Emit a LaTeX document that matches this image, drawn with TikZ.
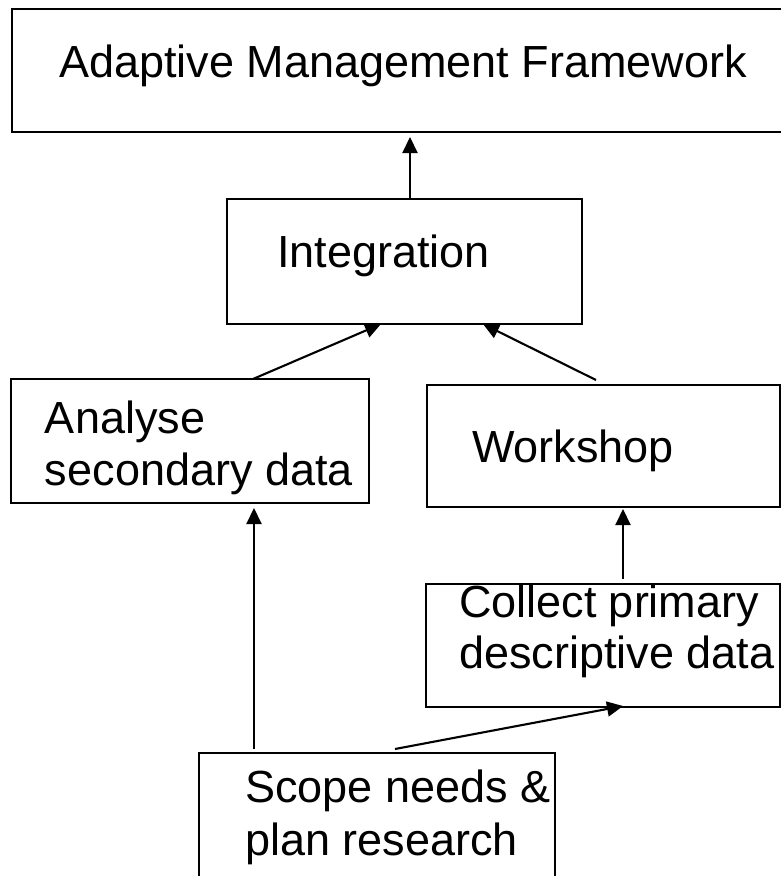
\documentclass[tikz,border=0pt]{standalone}
\usepackage{fontspec}
\setmainfont{Liberation Sans}
\usetikzlibrary{arrows.meta}

\begin{document}
\begin{tikzpicture}[x=1pt, y=-1pt,
  box/.style={draw, line width=2pt, rectangle, inner sep=0pt, outer sep=0pt},
  lbl/.style={anchor=base west, inner sep=0pt, outer sep=0pt,
              font=\fontsize{45}{52}\selectfont},
  arr/.style={line width=2.1pt, -{Triangle[length=16pt, width=15pt]}}]

  \useasboundingbox (0,0) rectangle (781,876);

  % boxes (the top box and the bottom box run past the page edge)
  \node[box, minimum width=774pt, minimum height=123pt] (top)      at (399,70.5)  {};
  \node[box, minimum width=355pt, minimum height=125pt] (integ)    at (404.5,261.5) {};
  \node[box, minimum width=358pt, minimum height=124pt] (analyse)  at (190,441)   {};
  \node[box, minimum width=353pt, minimum height=122pt] (workshop) at (603.5,446) {};
  \node[box, minimum width=354pt, minimum height=123pt] (collect)  at (603,645.5) {};
  \node[box, minimum width=356pt, minimum height=140pt] (scope)    at (377,823)   {};

  % labels
  \node[lbl] (topT)   at (59,77)   {Adaptive Management Framework};
  \node[lbl] (integT) at (277,267) {Integration};
  \node[lbl] (anaT1)  at (45,433)  {Analyse};
  \node[lbl] (anaT2)  at (45,485)  {secondary data};
  \node[lbl] (wsT)    at (472,462) {Workshop};
  \node[lbl] (colT1)  at (459,617) {Collect primary};
  \node[lbl] (colT2)  at (459,668) {descriptive data};
  \node[lbl] (scT1)   at (245,802) {Scope needs \&};
  \node[lbl] (scT2)   at (245,855) {plan research};

  % connectors
  \draw[arr] ([xshift=183pt]integ.north west) -- ([xshift=398pt, yshift=-5pt]top.south west);
  \draw[arr] ([xshift=242pt]analyse.north west) -- ([xshift=154pt]integ.south west);
  \draw[arr] ([xshift=169pt, yshift=5pt]workshop.north west) -- ([xshift=256pt]integ.south west);
  \draw[arr] ([xshift=197pt, yshift=5pt]collect.north west) -- ([xshift=196pt, yshift=-2pt]workshop.south west);
  \draw[arr] ([xshift=55pt, yshift=4pt]scope.north west) -- ([xshift=243pt, yshift=-5pt]analyse.south west);
  \draw[arr] ([xshift=196pt, yshift=4pt]scope.north west) -- ([xshift=197pt, yshift=1pt]collect.south west);
\end{tikzpicture}
\end{document}
